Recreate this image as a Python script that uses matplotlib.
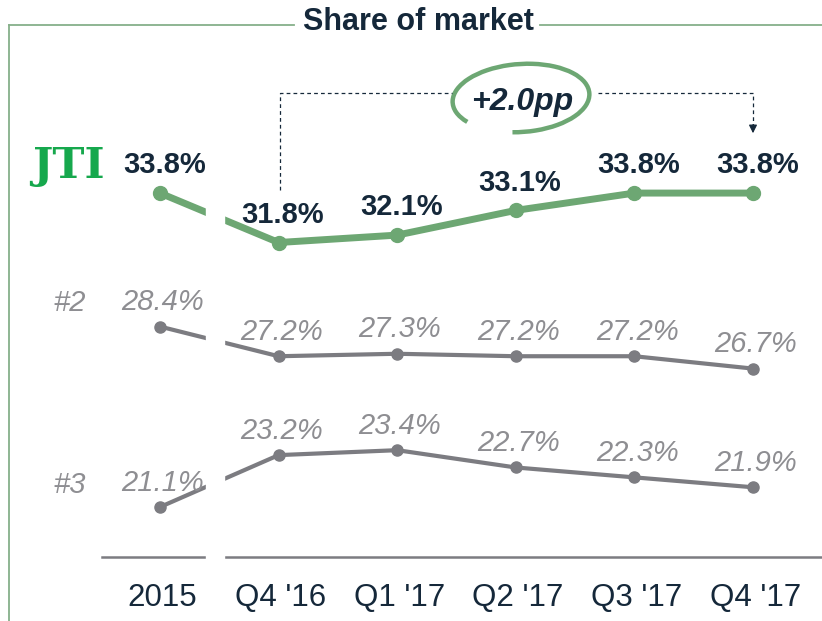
import numpy as np
import matplotlib
matplotlib.use("Agg")
from matplotlib import pyplot as plt
from matplotlib.patches import Arc

plt.rcParams['font.family'] = ['Liberation Sans', 'DejaVu Sans']

# data
periods = ["2015", "Q4 '16", "Q1 '17", "Q2 '17", "Q3 '17", "Q4 '17"]
jti = [33.8, 31.8, 32.1, 33.1, 33.8, 33.8]
rank2 = [28.4, 27.2, 27.3, 27.2, 27.2, 26.7]
rank3 = [21.1, 23.2, 23.4, 22.7, 22.3, 21.9]
change_label = "+2.0pp"
title = "Share of market"

GREEN = '#6da773'
FRAME = '#86b08a'
GREY = '#7c7c81'
LABEL_GREY = '#8e8e92'
NAVY = '#15283a'
LOGO = '#16a84d'

W, H = 822, 621
fig = plt.figure(figsize=(W / 100, H / 100), dpi=100)

# main axes over whole figure, scaled so points land where they did
ax = fig.add_axes([0, 0, 1, 1])
ax.set_xlim(-1.349, 5.582)
ax.set_ylim(16.49, 41.61)
ax.axis('off')

x = np.arange(len(periods))

ax.plot(x, jti, color=GREEN, lw=5, marker='o', ms=10, zorder=2,
        solid_capstyle='round')
ax.plot(x, rank2, color=GREY, lw=3.0, marker='o', ms=8, zorder=2)
ax.plot(x, rank3, color=GREY, lw=3.0, marker='o', ms=8, zorder=2)

# baseline
ax.plot([-0.49, 5.7], [19.08, 19.08], color=GREY, lw=1.8, zorder=2)

# break between 2015 and the quarters
ax.axvspan(0.39, 0.54, ymin=0.05, ymax=0.85, color='white', zorder=3)

for xi, v in zip(x, jti):
    ax.annotate(f"{v:.1f}%", (xi, v), xytext=(3, 20), textcoords='offset points',
                ha='center', va='center', fontsize=21, fontweight='bold',
                color=NAVY, zorder=5)
for series in (rank2, rank3):
    for xi, v in zip(x, series):
        ax.annotate(f"{v:.1f}%", (xi, v), xytext=(2, 17.5), textcoords='offset points',
                    ha='center', va='center', fontsize=21, style='italic',
                    color=LABEL_GREY, zorder=5)

tx = ax.get_xaxis_transform()
for xi, lab in zip(x, periods):
    ax.text(xi + 0.02, 1 - 598 / H, lab, transform=tx, ha='center', va='center',
            fontsize=22.5, color=NAVY)

# decoration layer in pixel units
deco = fig.add_axes([0, 0, 1, 1])
deco.set_xlim(0, W)
deco.set_ylim(H, 0)
deco.axis('off')

# frame
deco.plot([8.5, 8.5], [H, 25], color=FRAME, lw=1.3)
deco.plot([8.5, 294], [25, 25], color=FRAME, lw=1.3)
deco.plot([540, W], [25, 25], color=FRAME, lw=1.3)
deco.text(418, 22, title, ha='center', va='center', fontsize=22,
          fontweight='bold', color=NAVY)

# logo and rank markers
deco.text(68, 166, "JTI", ha='center', va='center', fontsize=31,
          fontweight='bold', family='DejaVu Serif', color=LOGO)
deco.text(70, 303, "#2", ha='center', va='center', fontsize=21,
          style='italic', color=LABEL_GREY)
deco.text(70, 485, "#3", ha='center', va='center', fontsize=21,
          style='italic', color=LABEL_GREY)

# bracket showing the change
deco.plot([280, 280, 452], [190, 93, 93], color=NAVY, lw=0.9, ls=(0, (3, 2.5)))
deco.plot([598, 753, 753], [93, 93, 126], color=NAVY, lw=0.9, ls=(0, (3, 2.5)))
deco.annotate("", xy=(753, 136), xytext=(753, 122),
              arrowprops=dict(arrowstyle='-|>', color=NAVY, lw=0.9,
                              mutation_scale=12))
deco.add_patch(Arc((521, 98), 137, 68, angle=-4, theta1=160, theta2=468,
                   color=GREEN, lw=3.2))
deco.text(522, 102, change_label, ha='center', va='center', fontsize=23,
          fontweight='bold', style='italic', color=NAVY)

fig.savefig("out.png", dpi=100)
